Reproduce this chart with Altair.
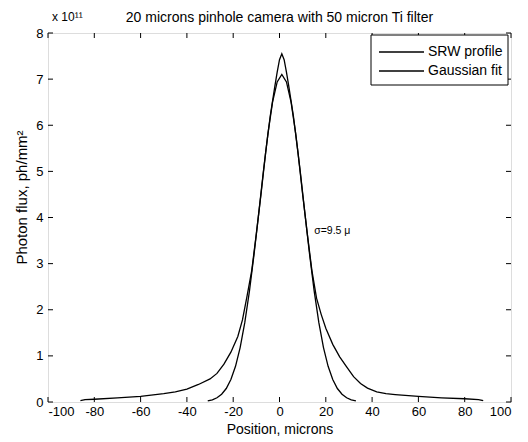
import altair as alt
import pandas as pd

# SRW profile (x in microns, flux in 1e11 ph/mm^2)
srw_x = [-86, -84, -80, -70, -60, -50, -45, -40, -35, -30, -27, -24, -21, -18, -16, -14,
         -12, -10, -8, -6, -4, -2, -1, 0, 1, 2, 3, 4, 6, 8, 10, 12, 14, 16, 18, 20, 23, 26,
         29, 32, 35, 38, 42, 46, 50, 60, 70, 80, 86, 88]
srw_y = [0.03, 0.05, 0.06, 0.09, 0.12, 0.18, 0.22, 0.28, 0.38, 0.50, 0.62, 0.82, 1.08, 1.42, 1.78, 2.30,
         2.85, 3.65, 4.50, 5.40, 6.20, 6.85, 7.15, 7.42, 7.55, 7.42, 7.15, 6.85, 6.20, 5.40, 4.50, 3.65, 2.85, 2.25, 1.90, 1.60, 1.25, 0.98,
         0.76, 0.55, 0.40, 0.30, 0.22, 0.18, 0.16, 0.12, 0.09, 0.07, 0.05, 0.03]

# Gaussian fit
gau_x = [-31, -29, -27, -25, -23, -21, -19, -17, -15, -13, -11, -9, -7, -5, -3, -1, 1,
         3, 5, 7, 9, 11, 13, 15, 17, 19, 21, 23, 25, 27, 29, 31, 33]
gau_y = [0.024, 0.048, 0.092, 0.168, 0.292, 0.486, 0.774, 1.18, 1.72, 2.40, 3.20, 4.08, 4.98, 5.82, 6.50, 6.94, 7.10,
         6.94, 6.50, 5.82, 4.98, 4.08, 3.20, 2.40, 1.72, 1.18, 0.774, 0.486, 0.292, 0.168, 0.092, 0.048, 0.024]

series_names = ["SRW profile", "Gaussian fit"]
x_ticks = [-100, -80, -60, -40, -20, 0, 20, 40, 60, 80, 100]
y_ticks = [0, 1, 2, 3, 4, 5, 6, 7, 8]

title_text = ["20 microns pinhole camera with 50 micron Ti filter"]
x_title = "Position, microns"
y_title = "Photon flux, ph/mm²"
exp_label = ["x 10¹¹"]
note_label = ["σ=9.5 μ"]
note_x = [15.0]
note_y = [3.7]

W, H = 463, 369
FONT = "Liberation Sans"
LW = 1.3

df = pd.concat([
    pd.DataFrame({"x": srw_x, "y": srw_y, "s": series_names[0]}),
    pd.DataFrame({"x": gau_x, "y": gau_y, "s": series_names[1]}),
])

xs = alt.Scale(domain=[-100, 100], nice=False, zero=False)
ys = alt.Scale(domain=[0, 8], nice=False)

lines = alt.Chart(df).mark_line(strokeWidth=LW, clip=True, color="black").encode(
    x=alt.X("x:Q", scale=xs, title=x_title,
            axis=alt.Axis(values=x_ticks, ticks=False, domain=False, grid=False,
                          labelExpr="datum.value + ''",
                          labelPadding=3, labelFontSize=13, labelFont=FONT,
                          titleFont=FONT, titleFontSize=14, titleFontWeight="normal",
                          titlePadding=4, labelColor="black", titleColor="black")),
    y=alt.Y("y:Q", scale=ys, title=y_title,
            axis=alt.Axis(values=y_ticks, ticks=False, domain=False, grid=False,
                          labelExpr="datum.value + ''",
                          labelPadding=5, labelFontSize=13, labelFont=FONT,
                          titleFont=FONT, titleFontSize=15, titleFontWeight="normal",
                          titlePadding=6, titleY=164,
                          labelColor="black", titleColor="black")),
    detail=alt.Detail("s:N"),
    order="x:Q",
)

xt = pd.DataFrame({"v": x_ticks})
yt = pd.DataFrame({"v": y_ticks})

bt = alt.Chart(xt).mark_rule(color="black").encode(x=alt.X("v:Q", scale=xs), y=alt.value(H), y2=alt.value(H - 5))
tt = alt.Chart(xt).mark_rule(color="black").encode(x=alt.X("v:Q", scale=xs), y=alt.value(0), y2=alt.value(5))
lt = alt.Chart(yt).mark_rule(color="black").encode(y=alt.Y("v:Q", scale=ys), x=alt.value(0), x2=alt.value(5))
rt = alt.Chart(yt).mark_rule(color="black").encode(y=alt.Y("v:Q", scale=ys), x=alt.value(W), x2=alt.value(W - 5))

note = alt.Chart(pd.DataFrame({"t": note_label, "x": note_x, "y": note_y})).mark_text(
    align="left", baseline="middle", font=FONT, fontSize=10.5, color="black"
).encode(x=alt.X("x:Q", scale=xs), y=alt.Y("y:Q", scale=ys), text="t:N")

expo = alt.Chart(pd.DataFrame({"t": exp_label})).mark_text(
    align="left", baseline="alphabetic", font=FONT, fontSize=12, color="black"
).encode(x=alt.value(4), y=alt.value(-12), text="t:N")

title = alt.Chart(pd.DataFrame({"t": title_text})).mark_text(
    align="center", baseline="alphabetic", font=FONT, fontSize=14, color="black"
).encode(x=alt.value(W / 2), y=alt.value(-11), text="t:N")

# legend box drawn from marks
leg_df = pd.DataFrame({"a": [0]})
leg_box = alt.Chart(leg_df).mark_rect(fill="white", stroke="black", strokeWidth=1).encode(
    x=alt.value(323), x2=alt.value(460), y=alt.value(2), y2=alt.value(52))
leg_parts = [leg_box]
for i, name in enumerate(series_names):
    yy = 19 + i * 19
    leg_parts.append(alt.Chart(leg_df).mark_rule(color="black", strokeWidth=LW).encode(
        x=alt.value(331), x2=alt.value(376), y=alt.value(yy)))
    leg_parts.append(alt.Chart(pd.DataFrame({"t": [name]})).mark_text(
        align="left", baseline="middle", font=FONT, fontSize=14, color="black").encode(
        x=alt.value(380), y=alt.value(yy), text="t:N"))

chart = alt.layer(lines, bt, tt, lt, rt, note, expo, title, *leg_parts).properties(
    width=W, height=H,
    autosize=alt.AutoSizeParams(type="none"),
    padding={"left": 48, "top": 33, "right": 17, "bottom": 40},
).configure_view(stroke="black", strokeWidth=1.2).configure(background="white")

chart.save("out.html", embed_options={"renderer": "svg", "actions": False})
